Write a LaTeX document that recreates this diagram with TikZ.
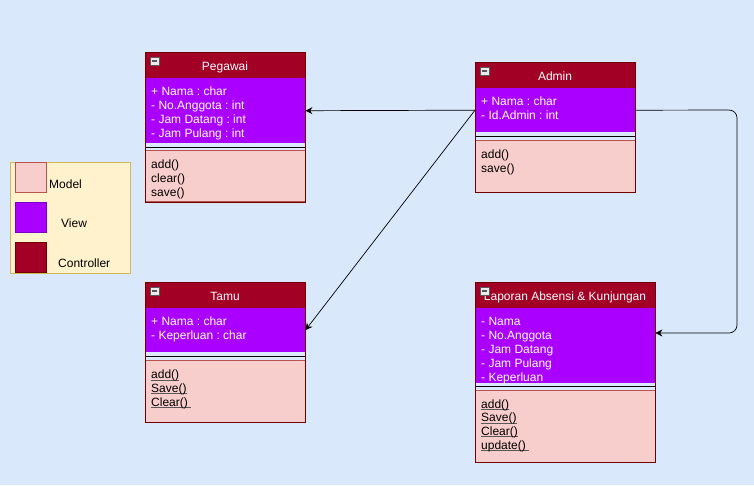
\documentclass[tikz,border=0pt]{standalone}
\usepackage{fontspec}
\setmainfont{Liberation Sans}
\usetikzlibrary{arrows.meta}

\definecolor{bgblue}{HTML}{DAE8FC}
\definecolor{ctrlfill}{HTML}{A20025}
\definecolor{ctrlline}{HTML}{6F0000}
\definecolor{viewfill}{HTML}{AA00FF}
\definecolor{viewline}{HTML}{7700CC}
\definecolor{modelfill}{HTML}{F8CECC}
\definecolor{modelline}{HTML}{B85450}
\definecolor{legfill}{HTML}{FFF2CC}
\definecolor{legline}{HTML}{D6B656}

\tikzset{
  hdr/.style={anchor=north west, fill=ctrlfill, draw=ctrlline, inner sep=0pt, minimum height=26},
  attrs/.style={anchor=north west, fill=viewfill, inner sep=0pt},
  meths/.style={anchor=north west, fill=modelfill, draw=modelline, inner sep=0pt},
  title/.style={anchor=base, text=white, inner sep=0pt},
  attr/.style={anchor=base west, text=white, inner sep=0pt},
  meth/.style={anchor=base west, text=black, inner sep=0pt},
  swatch/.style={anchor=north west, inner sep=0pt, minimum width=31, minimum height=30},
  arr/.style={-{Stealth[length=7pt,width=7pt]}, black, line width=0.7pt},
}
\newcommand{\foldicon}[2]{%
  \draw[gray!70!black, fill=gray!15] (#1,#2) rectangle ++(9,8);
  \draw[gray!70!black, line width=1.3pt] (#1+2,#2+4) -- ++(5,0);}
\newcommand{\ul}[1]{\setbox0\hbox{#1}\rlap{\color{black!65}\rule[-1.5pt]{\wd0}{0.7pt}}\box0}
\frenchspacing

\begin{document}
\begin{tikzpicture}[x=1pt, y=-1pt, font=\fontsize{12}{14}\selectfont]
\fill[bgblue] (0,0) rectangle (754,485);
\useasboundingbox (0,0) rectangle (754,485);

% legend
\node[draw=legline, fill=legfill, anchor=north west, minimum width=120, minimum height=111, inner sep=0pt] (legend) at (10,162) {};
\node[swatch, fill=modelfill, draw=modelline] (legM) at (15,162) {};
\node[swatch, fill=viewfill, draw=viewline] (legV) at (15,202) {};
\node[swatch, fill=ctrlfill, draw=ctrlline] (legC) at (15,242) {};
\node[meth] (legMt) at (49,188) {Model};
\node[meth] (legVt) at (61,227.5) {View};
\node[meth] (legCt) at (58,267.5) {Controller};

% Pegawai
\node[hdr, minimum width=160] (pegH) at (145,52) {};
\node[attrs, minimum width=160, minimum height=65] (pegA) at (145,78) {};
\node[meths, minimum width=160, minimum height=51] (pegM) at (145,150) {};
\draw[black] (145,147) -- (305,147);
\draw[ctrlline] (145,52) rectangle (305,202);
\foldicon{150}{57}
\node[title] (pegT) at (225,70) {Pegawai};
\foreach \t [count=\i] in {+ Nama : char, - No.Anggota : int, - Jam Datang : int, - Jam Pulang : int}
  \node[attr] (pega\i) at (151,81.5+14*\i) {\t};
\foreach \t [count=\i] in {add(), clear(), save()}
  \node[meth] (pegm\i) at (151,154.8+13.8*\i) {\t};

% Admin
\node[hdr, minimum width=160] (admH) at (475,62) {};
\node[attrs, minimum width=160, minimum height=44] (admA) at (475,88) {};
\node[meths, minimum width=160, minimum height=52] (admM) at (475,140) {};
\draw[black] (475,136.5) -- (635,136.5);
\draw[ctrlline] (475,62) rectangle (635,192);
\foldicon{480}{67}
\node[title] (admT) at (555,80) {Admin};
\foreach \t [count=\i] in {+ Nama : char, - Id.Admin : int}
  \node[attr] (adma\i) at (481,91.3+14*\i) {\t};
\foreach \t [count=\i] in {add(), save()}
  \node[meth] (admm\i) at (481,145.2+13.5*\i) {\t};

% Tamu
\node[hdr, minimum width=160] (tamH) at (145,282) {};
\node[attrs, minimum width=160, minimum height=44] (tamA) at (145,308) {};
\node[meths, minimum width=160, minimum height=62] (tamM) at (145,360) {};
\draw[black] (145,356.5) -- (305,356.5);
\draw[ctrlline] (145,282) rectangle (305,422);
\foldicon{150}{287}
\node[title] (tamT) at (225,300) {Tamu};
\foreach \t [count=\i] in {+ Nama : char, - Keperluan : char}
  \node[attr] (tama\i) at (151,311.3+14*\i) {\t};
\foreach \t [count=\i] in {\ul{add()}, \ul{Save()}, \ul{Clear()~}}
  \node[meth] (tamm\i) at (151,365.2+13.6*\i) {\t};

% Laporan Absensi & Kunjungan
\node[hdr, minimum width=180] (lapH) at (475,282) {};
\node[attrs, minimum width=180, minimum height=75] (lapA) at (475,308) {};
\node[meths, minimum width=180, minimum height=72] (lapM) at (475,390) {};
\draw[black] (475,386.5) -- (655,386.5);
\draw[ctrlline] (475,282) rectangle (655,462);
\node[title] (lapT) at (565,300) {Laporan Absensi \& Kunjungan};
\foldicon{480}{287}
\foreach \t [count=\i] in {- Nama, - No.Anggota, - Jam Datang, - Jam Pulang, - Keperluan}
  \node[attr] (lapa\i) at (481,311.3+14*\i) {\t};
\foreach \t [count=\i] in {\ul{add()}, \ul{Save()}, \ul{Clear()}, \ul{update()~}}
  \node[meth] (lapm\i) at (481,394.2+13.8*\i) {\t};

% connectors
\coordinate (lapIn) at ([yshift=-25]lapA.north east);
\draw[arr] (admA.west) -- (pegA.east);
\draw[arr] (admA.west) -- (tamA.east);
\draw[arr, rounded corners=8pt] (admA.east) -- (737,110) |- (lapIn);
\end{tikzpicture}
\end{document}
